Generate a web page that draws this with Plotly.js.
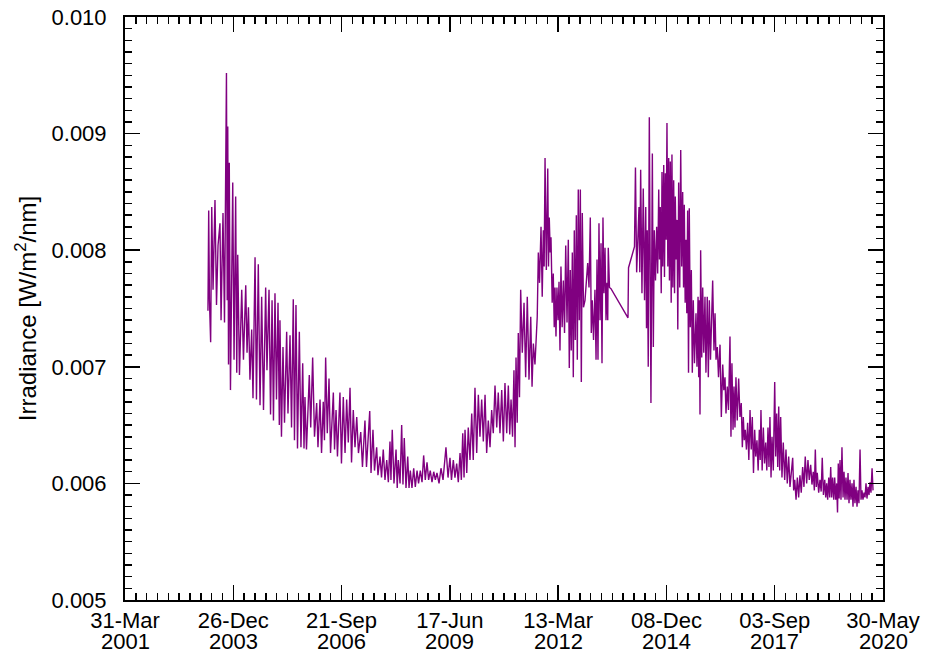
<!DOCTYPE html>
<html>
<head>
<meta charset="utf-8">
<script src="https://cdn.plot.ly/plotly-3.0.1.min.js"></script>
<style>html,body{margin:0;padding:0;background:#fff;}#chart{width:933px;height:652px;}</style>
</head>
<body>
<div id="chart"></div>
<script>
// Epoch of the time axis (first tick); samples are given as days after it
const epoch = '2001-03-31';

const dayOffset = [
766,773,780,791,801,813,831,845,859,877,887,905,919,937,944,949,956,963,974,995,
1007,1022,1032,1041,1057,1078,1094,1115,1127,1140,1154,1170,1182,1201,1214,1231,1247,1262,1279,1299,
1311,1330,1344,1358,1371,1385,1399,1413,1425,
1431,1445,1459,1473,1493,1505,1524,1538,1554,1565,1579,1593,1610,1625,1641,1653,1662,1676,1702,1715,
1733,1750,1770,1782,1801,1815,1831,1842,1853,1868,1884,1898,1924,1935,1949,1962,1985,1999,2016,2032,
2047,2062,2078,2092,2108,2124,2140,2156,2177,2193,2216,2230,
2260,2272,2290,2304,2324,2336,2355,2369,2385,2401,2417,2432,2447,2456,2468,2484,2503,2514,2524,2540,
2555,2567,2579,2595,2611,2623,2635,2650,2666,2681,2697,2711,2727,2743,2758,2773,2789,2804,2819,2835,
2851,2866,2881,2900,2918,2937,2964,2983,3001,3015,
3032,3047,3063,3078,3094,3106,3119,3131,3140,3156,3170,3186,3202,3216,3232,3248,3263,3278,3294,3309,
3325,3340,3355,3371,3386,3401,3417,3433,3447,3463,3479,3494,3509,3525,3540,3553,3565,3579,3592,3602,
3611,3622,3632,3643,3654,3669,3685,3700,3715,3731,3747,3759,3771,3786,3807,
3817,3828,3842,3853,3863,3871,3879,3891,3904,3911,3918,3927,3934,3945,3955,3964,3971,3980,3989,3999,
4008,4017,4026,4037,4048,4059,4070,4082,4094,4103,4112,4121,4131,4140,4149,4158,4168,4177,4186,4195,
4205,4214,4223,4234,4248,4273,4285,4297,4306,4315,4327,4340,4350,4359,4368,4377,4387,4396,4405,4414,
4423,4433,4442,4451,4458,4463,4474,4488,4645,4650,4705,4714,
4725,4747,4754,4762,4774,4786,4798,4809,4816,4823,4832,4842,4857,4870,4879,4888,4899,4910,4919,4929,
4936,4943,4952,4959,4966,4975,4982,4990,4998,5005,5013,5021,5028,5036,5044,5051,5059,5067,5075,5082,
5090,5098,5105,5113,5123,5132,5141,5150,5158,5165,5173,5181,5188,5196,5204,5211,5220,5230,5239,5248,
5259,5273,5282,5292,5298,5304,5310,5316,5326,5335,5345,5356,5365,5377,5387,5396,5407,
5427,5439,5449,5458,5470,5481,5495,5507,5520,5530,5541,5550,5562,5573,5587,5596,5605,5615,5624,5633,
5642,5654,5667,5679,5691,5701,5710,5719,5728,5739,5750,5761,5772,5783,5793,5804,5815,5825,5836,5847,
5858,5866,5873,5884,5895,5906,5917,5927,5938,5947,5956,5966,5975,5987,6000,6009,6018,6028,6037,6046,
6055,6067,6079,6092,6104,6116,6129,6141,
6166,6175,6185,6197,6209,6221,6233,6245,6258,6270,6282,6295,6307,6319,6332,6344,6356,6366,6375,6384,
6393,6406,6418,6429,6439,6450,6462,6471,6480,6489,6499,6508,6517,6526,6535,6545,6554,6563,6572,6580,
6587,6595,6603,6612,6621,6631,6640,6649,6658,6668,6677,6686,6695,6704,6714,6723,6732,6741,6751,6760,
6769,6778,6788,6797,6806,6815,6825,6834,6843,6852,6862,6871,6880,6889,6899,6908
];

// Irradiance in W/m^2/nm
const irradiance = [
0.00748,0.00834,0.00757,0.00721,0.00837,0.00766,0.00843,0.00753,0.00804,0.00823,
0.00740,0.00832,0.00738,0.00952,0.00757,0.00906,0.00702,0.00875,0.00680,0.00858,
0.00706,0.00846,0.00695,0.00796,0.00693,0.00766,0.00706,0.00770,0.00712,0.00751,
0.00689,0.00732,0.00673,0.00794,0.00672,0.00788,0.00667,0.00760,0.00663,0.00768,
0.00697,0.00766,0.00659,0.00757,0.00654,0.00763,0.00672,0.00755,0.00650,
0.00740,0.00640,0.00717,0.00652,0.00730,0.00660,0.00727,0.00648,0.00758,0.00637,
0.00753,0.00630,0.00730,0.00631,0.00703,0.00630,0.00674,0.00629,0.00693,0.00648,
0.00708,0.00640,0.00669,0.00631,0.00672,0.00626,0.00670,0.00637,0.00708,0.00643,
0.00690,0.00626,0.00678,0.00629,0.00663,0.00623,0.00678,0.00617,0.00674,0.00626,
0.00672,0.00635,0.00682,0.00618,0.00663,0.00631,0.00657,0.00626,0.00644,0.00614,
0.00654,0.00614,
0.00662,0.00609,0.00646,0.00611,0.00631,0.00607,0.00623,0.00605,0.00629,0.00603,
0.00620,0.00601,0.00636,0.00603,0.00646,0.00600,0.00629,0.00596,0.00620,0.00600,
0.00650,0.00599,0.00639,0.00596,0.00623,0.00596,0.00611,0.00596,0.00613,0.00597,
0.00611,0.00600,0.00611,0.00601,0.00624,0.00603,0.00618,0.00603,0.00611,0.00601,
0.00610,0.00603,0.00609,0.00600,0.00613,0.00603,0.00631,0.00605,0.00622,0.00603,
0.00620,0.00605,0.00617,0.00601,0.00626,0.00603,0.00643,0.00605,0.00646,0.00609,
0.00648,0.00620,0.00660,0.00620,0.00682,0.00626,0.00676,0.00640,0.00672,0.00636,
0.00676,0.00626,0.00654,0.00631,0.00663,0.00643,0.00684,0.00648,0.00678,0.00643,
0.00680,0.00636,0.00686,0.00643,0.00684,0.00642,0.00672,0.00640,0.00697,0.00631,
0.00708,0.00652,0.00729,0.00674,0.00766,0.00712,0.00755,0.00691,0.00760,0.00689,
0.00743,0.00683,0.00720,0.00702,0.00743,
0.00798,0.00772,0.00820,0.00760,0.00817,0.00786,0.00879,0.00783,0.00870,0.00786,
0.00828,0.00798,0.00811,0.00755,0.00780,0.00734,0.00768,0.00726,0.00768,0.00740,
0.00773,0.00714,0.00786,0.00734,0.00774,0.00729,0.00804,0.00738,0.00809,0.00699,
0.00783,0.00714,0.00798,0.00691,0.00817,0.00723,0.00830,0.00706,0.00852,0.00740,
0.00852,0.00687,0.00832,0.00751,0.00757,0.00789,0.00768,0.00828,0.00729,0.00757,
0.00723,0.00766,0.00706,0.00792,0.00706,0.00823,0.00740,0.00806,0.00703,0.00828,
0.00763,0.00802,0.00740,0.00772,0.00740,0.00802,0.00768,0.00767,0.00742,0.00785,
0.00803,0.00871,
0.00781,0.00837,0.00781,0.00869,0.00763,0.00853,0.00757,0.00837,0.00733,0.00817,
0.00700,0.00914,0.00669,0.00883,0.00717,0.00817,0.00774,0.00820,0.00780,0.00852,
0.00792,0.00837,0.00763,0.00867,0.00786,0.00873,0.00777,0.00866,0.00809,0.00909,
0.00786,0.00879,0.00774,0.00876,0.00755,0.00882,0.00768,0.00860,0.00763,0.00846,
0.00792,0.00826,0.00732,0.00858,0.00768,0.00886,0.00786,0.00850,0.00768,0.00839,
0.00755,0.00809,0.00746,0.00834,0.00695,0.00836,0.00734,0.00783,0.00695,0.00757,
0.00703,0.00746,0.00700,0.00760,0.00691,0.00757,0.00659,0.00800,0.00708,0.00768,
0.00712,0.00760,0.00695,0.00760,0.00691,0.00757,0.00706,
0.00774,0.00714,0.00746,0.00706,0.00717,0.00691,0.00719,0.00657,0.00702,0.00680,
0.00691,0.00660,0.00683,0.00663,0.00726,0.00640,0.00703,0.00646,0.00683,0.00648,
0.00691,0.00654,0.00690,0.00657,0.00669,0.00631,0.00657,0.00637,0.00646,0.00629,
0.00652,0.00620,0.00663,0.00629,0.00657,0.00609,0.00646,0.00623,0.00637,0.00611,
0.00646,0.00620,0.00663,0.00611,0.00648,0.00617,0.00635,0.00611,0.00648,0.00614,
0.00657,0.00605,0.00640,0.00611,0.00687,0.00623,0.00660,0.00614,0.00666,0.00611,
0.00657,0.00605,0.00635,0.00603,0.00629,0.00600,0.00623,0.00597,
0.00622,0.00594,0.00603,0.00586,0.00605,0.00588,0.00607,0.00592,0.00614,0.00597,
0.00623,0.00600,0.00620,0.00603,0.00616,0.00599,0.00610,0.00594,0.00629,0.00597,
0.00609,0.00592,0.00603,0.00593,0.00622,0.00590,0.00603,0.00588,0.00600,0.00586,
0.00605,0.00588,0.00614,0.00588,0.00605,0.00586,0.00605,0.00586,0.00600,0.00575,
0.00617,0.00587,0.00620,0.00586,0.00631,0.00588,0.00610,0.00586,0.00605,0.00586,
0.00609,0.00583,0.00603,0.00586,0.00600,0.00580,0.00603,0.00583,0.00597,0.00580,
0.00594,0.00583,0.00629,0.00586,0.00594,0.00586,0.00592,0.00588,0.00600,0.00587,
0.00597,0.00590,0.00601,0.00592,0.00613,0.00594
];

const xTickDates = ['2001-03-31','2003-12-26','2006-09-21','2009-06-17','2012-03-13','2014-12-08','2017-09-03','2020-05-30'];
const xTickDayMonth = ['31-Mar','26-Dec','21-Sep','17-Jun','13-Mar','08-Dec','03-Sep','30-May'];
const xTickYears = ['2001','2003','2006','2009','2012','2014','2017','2020'];
const yTickVals = [0.005, 0.006, 0.007, 0.008, 0.009, 0.010];
const yTickLabels = ['0.005','0.006','0.007','0.008','0.009','0.010'];

const DAY = 86400000;
const epochMs = Date.parse(epoch + 'T00:00:00Z');
const xDates = dayOffset.map(d => new Date(epochMs + d * DAY).toISOString().slice(0, 10));

const fam = 'Liberation Sans, Arial, Helvetica, sans-serif';
const font = {family: fam, size: 22, color: '#000'};

const trace = {
  x: xDates, y: irradiance, type: 'scatter', mode: 'lines',
  line: {color: '#800080', width: 1.4}, hoverinfo: 'skip'
};

// second line of each date label (the year), placed under its tick
const yearAnnotations = xTickDates.map((d, i) => ({
  x: d, xref: 'x', y: -0.072, yref: 'paper',
  text: xTickYears[i], showarrow: false, xanchor: 'center', yanchor: 'middle',
  font: font
}));

const layout = {
  width: 933, height: 652,
  margin: {l: 125, r: 50, t: 17, b: 52, pad: 0},
  paper_bgcolor: '#fff', plot_bgcolor: '#fff',
  font: font,
  showlegend: false,
  annotations: yearAnnotations,
  xaxis: {
    type: 'date',
    range: [xTickDates[0], xTickDates[xTickDates.length - 1]],
    tickmode: 'array', tickvals: xTickDates, ticktext: xTickDayMonth,
    ticks: 'inside', ticklen: 15, tickwidth: 1.5, tickcolor: '#000',
    showline: true, linecolor: '#000', linewidth: 2, mirror: 'ticks',
    showgrid: false, zeroline: false, automargin: false,
    tickfont: font,
    minor: {ticks: 'inside', ticklen: 7, tickwidth: 1.5, tickcolor: '#000', dtick: 100 * DAY, tick0: xTickDates[0], showgrid: false}
  },
  yaxis: {
    range: [0.005, 0.010],
    tickmode: 'array', tickvals: yTickVals, ticktext: yTickLabels,
    ticks: 'inside', ticklen: 15, tickwidth: 1.5, tickcolor: '#000',
    showline: true, linecolor: '#000', linewidth: 2, mirror: 'ticks',
    showgrid: false, zeroline: false, automargin: false,
    tickfont: font, ticklabelstandoff: 12,
    minor: {ticks: 'inside', ticklen: 7, tickwidth: 1.5, tickcolor: '#000', dtick: 0.0001, tick0: 0.005, showgrid: false},
    title: {text: 'Irradiance [W/m<sup>2</sup>/nm]', font: {family: fam, size: 24, color: '#000'}, standoff: 8}
  }
};

Plotly.newPlot('chart', [trace], layout, {displayModeBar: false, staticPlot: true});
</script>
</body>
</html>
